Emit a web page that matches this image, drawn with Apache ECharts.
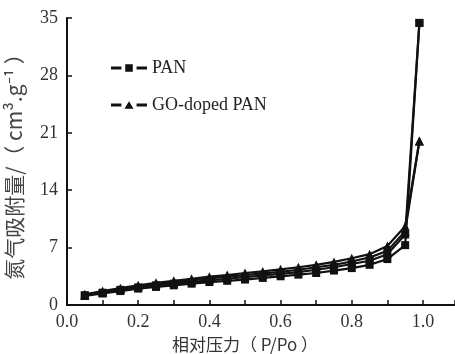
<!DOCTYPE html>
<html>
<head>
<meta charset="utf-8">
<script src="https://cdn.jsdelivr.net/npm/echarts@6/dist/echarts.min.js"></script>
<style>
  * { margin: 0; padding: 0; }
  #chart { width: 455px; height: 354px; background: #fff; }
</style>
</head>
<body>
<div id="chart"></div>
<script>
  // relative pressure P/Po
  var pressure = [0.05, 0.1, 0.15, 0.2, 0.25, 0.3, 0.35, 0.4, 0.45, 0.5, 0.55, 0.6, 0.65, 0.7, 0.75, 0.8, 0.85, 0.9, 0.95, 0.99]
  // adsorbed N2 volume, cm3/g (adsorption / desorption branches)
  var panAds = [1.1, 1.4, 1.7, 2.0, 2.2, 2.4, 2.6, 2.8, 2.95, 3.1, 3.3, 3.5, 3.7, 3.9, 4.2, 4.5, 4.9, 5.6, 7.3, 34.4]
  var panDes = [1.2, 1.5, 1.85, 2.15, 2.4, 2.6, 2.8, 3.0, 3.2, 3.4, 3.6, 3.8, 4.0, 4.3, 4.6, 5.0, 5.4, 6.2, 8.6, 34.4]
  var goAds = [1.2, 1.6, 1.95, 2.3, 2.55, 2.8, 3.0, 3.25, 3.45, 3.65, 3.85, 4.05, 4.3, 4.6, 4.9, 5.3, 5.8, 6.6, 9.0, 20.0]
  var goDes = [1.3, 1.7, 2.05, 2.4, 2.7, 2.95, 3.2, 3.45, 3.65, 3.9, 4.1, 4.35, 4.6, 4.9, 5.25, 5.7, 6.2, 7.2, 9.6, 20.0]
  var yTicks = [0, 7, 14, 21, 28, 35]

  function pairs(ys) {
    return pressure.map(function (x, i) { return [x, ys[i]] })
  }

  var serif = 'Liberation Serif'
  var cjk = 'Noto Sans CJK SC'

  // legend icons: dash - marker - dash
  var iconRect = 'path://M0,3h11v3h-11z M15,0.5h8v8h-8z M27,3h11v3h-11z'
  var iconTri = 'path://M0,3h11v3h-11z M19,0.5l4.8,8h-9.6z M27,3h11v3h-11z'

  function line(name, data, symbol) {
    return {
      name: name,
      type: 'line',
      data: pairs(data),
      symbol: symbol,
      symbolSize: symbol === 'triangle' ? 9 : 8,
      showSymbol: true,
      lineStyle: { color: '#111', width: 2.2 },
      itemStyle: { color: '#111' },
      animation: false
    }
  }

  var myChart = echarts.init(document.getElementById('chart'), null, { renderer: 'canvas' })
  var option = {
    backgroundColor: '#fff',
    grid: { left: 67, right: 0, top: 18, bottom: 49, outerBoundsMode: 'none' },
    legend: {
      data: [
        { name: 'PAN', icon: iconRect },
        { name: 'GO-doped PAN', icon: iconTri }
      ],
      orient: 'vertical',
      left: 106,
      top: 54,
      itemWidth: 36,
      itemHeight: 8,
      itemGap: 19,
      textStyle: { fontFamily: serif, fontSize: 18, color: '#222' }
    },
    xAxis: {
      type: 'value',
      min: 0,
      max: 1.09,
      interval: 0.1,
      name: '相对压力（ P/Po ）',
      nameLocation: 'middle',
      nameGap: 30,
      nameTextStyle: { fontFamily: cjk, fontSize: 17, color: '#333', padding: [0, 32, 0, 0] },
      axisLine: { lineStyle: { color: '#111', width: 2 } },
      axisTick: { inside: true, length: 5, lineStyle: { color: '#111', width: 1.5 } },
      axisLabel: {
        fontFamily: serif, fontSize: 18, color: '#333', margin: 8,
        formatter: function (v) {
          var k = Math.round(v * 100)
          return k % 20 === 0 && k <= 100 ? (k / 100).toFixed(1) : ''
        }
      },
      splitLine: { show: false }
    },
    yAxis: {
      type: 'value',
      min: yTicks[0],
      max: yTicks[yTicks.length - 1],
      interval: 7,
      name: '氮气吸附量/（ cm³.g⁻¹ ）',
      nameLocation: 'middle',
      nameGap: 42,
      nameTextStyle: { fontFamily: cjk, fontSize: 21, color: '#444' },
      axisLine: { show: true, lineStyle: { color: '#111', width: 2 } },
      axisTick: { show: true, inside: true, length: 5, lineStyle: { color: '#111', width: 1.5 } },
      axisLabel: { fontFamily: serif, fontSize: 18, color: '#333', margin: 9 },
      splitLine: { show: false }
    },
    series: [
      line('PAN', panAds, 'rect'),
      line('PAN', panDes, 'rect'),
      line('GO-doped PAN', goAds, 'triangle'),
      line('GO-doped PAN', goDes, 'triangle')
    ]
  }
  myChart.setOption(option)
  window.addEventListener('resize', myChart.resize)
</script>
</body>
</html>
